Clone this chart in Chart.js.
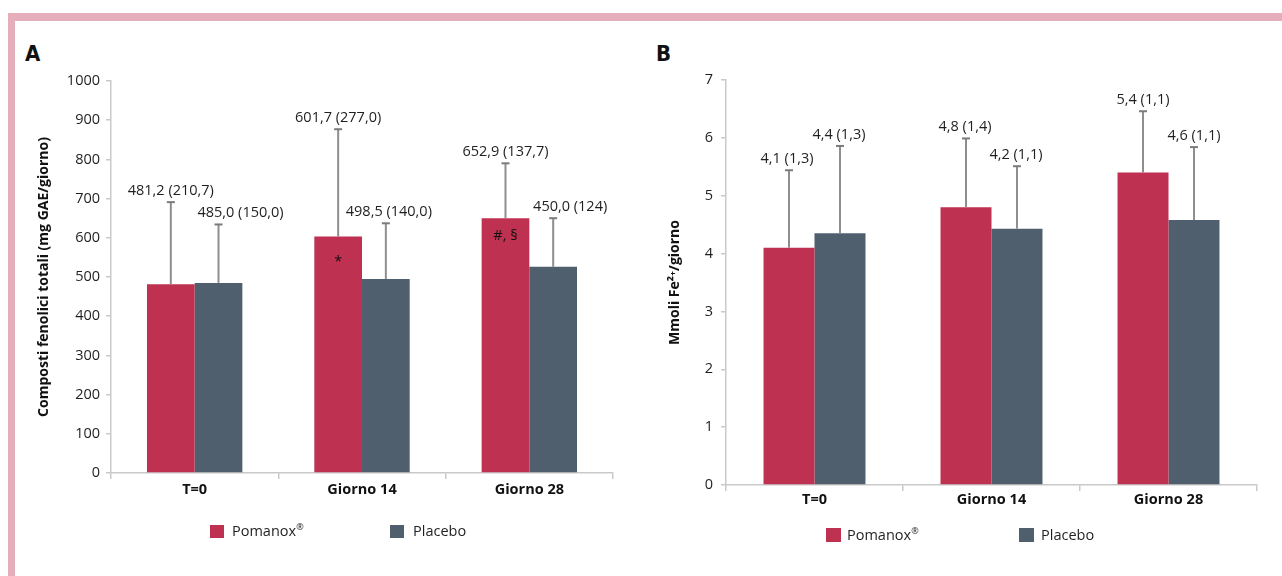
<!DOCTYPE html>
<html>
<head>
<meta charset="utf-8">
<script src="https://cdn.jsdelivr.net/npm/chart.js@4.4.1/dist/chart.umd.min.js"></script>
<style>
  body { margin: 0; width: 1282px; height: 576px; position: relative; overflow: hidden; background: #fff; font-family: 'Open Sans', sans-serif; color: #1f1f1f }
  .band-top { position: absolute; left: 8px; top: 13px; right: 0; height: 8px; background: #e6aeba }
  .band-left { position: absolute; left: 8px; top: 13px; width: 7px; bottom: 0; background: #e6aeba }
  .letter { position: absolute; font: bold 22px 'Liberation Sans Narrow', 'DejaVu Sans Condensed', sans-serif; color: #111; line-height: 1 }
  canvas { position: absolute }
  .lg-box { position: absolute; width: 14px; height: 13px }
  .lg-txt { position: absolute; font-size: 14.5px; line-height: 20px; color: #1f1f1f }
  .lg-txt sup { font-size: 9px; vertical-align: 6px; line-height: 0 }
</style>
</head>
<body>
<div class="band-top"></div>
<div class="band-left"></div>
<div class="letter" style="left:25px;top:43px">A</div>
<div class="letter" style="left:656px;top:43px">B</div>

<canvas id="chartA" width="620" height="546" style="left:20px;top:30px"></canvas>
<canvas id="chartB" width="642" height="546" style="left:640px;top:30px"></canvas>

<div class="lg-box" style="left:210px;top:525px;background:#be3151"></div>
<div class="lg-txt" style="left:232px;top:521px">Pomanox<sup>®</sup></div>
<div class="lg-box" style="left:390px;top:525px;background:#4f5f6d"></div>
<div class="lg-txt" style="left:413px;top:521px">Placebo</div>

<div class="lg-box" style="left:826px;top:528px;width:15px;height:14px;background:#be3151"></div>
<div class="lg-txt" style="left:847px;top:525px">Pomanox<sup>®</sup></div>
<div class="lg-box" style="left:1019px;top:528px;width:15px;height:14px;background:#4f5f6d"></div>
<div class="lg-txt" style="left:1041px;top:525px">Placebo</div>

<script>
const categories = ['T=0', 'Giorno 14', 'Giorno 28']

// A: composti fenolici totali (bar height, whisker end, printed text)
const pomanoxA = [481.2, 603, 650]
const placeboA = [485, 495, 526]
const pomanoxA_err = [691, 877, 790]
const placeboA_err = [634, 637, 650]
const pomanoxA_text = ['481,2 (210,7)', '601,7 (277,0)', '652,9 (137,7)']
const placeboA_text = ['485,0 (150,0)', '498,5 (140,0)', '450,0 (124)']
const pomanoxA_marks = ['', '*', '#, §']
const ticksA = [0, 100, 200, 300, 400, 500, 600, 700, 800, 900, 1000]

// B: Mmoli Fe2+/giorno
const pomanoxB = [4.1, 4.8, 5.4]
const placeboB = [4.35, 4.43, 4.58]
const pomanoxB_err = [5.44, 5.99, 6.46]
const placeboB_err = [5.86, 5.51, 5.84]
const pomanoxB_text = ['4,1 (1,3)', '4,8 (1,4)', '5,4 (1,1)']
const placeboB_text = ['4,4 (1,3)', '4,2 (1,1)', '4,6 (1,1)']
const ticksB = [0, 1, 2, 3, 4, 5, 6, 7]

const RED = '#be3151'
const SLATE = '#4f5f6d'
const AXIS = '#c9c9c9'

Chart.defaults.font.family = "'Open Sans', sans-serif"
Chart.defaults.color = '#1f1f1f'

const errorBars = {
  id: 'errorBars',
  afterDatasetsDraw(chart, args, opts) {
    const { ctx } = chart
    const y = chart.scales.y
    const nudge = opts.nudge || [[], []]
    ctx.save()
    chart.data.datasets.forEach((ds, di) => {
      chart.getDatasetMeta(di).data.forEach((bar, i) => {
        const x = bar.x
        const top = y.getPixelForValue(ds.errTop[i])
        ctx.lineWidth = 2
        ctx.strokeStyle = '#8e8e8e'
        ctx.beginPath(); ctx.moveTo(x, bar.y); ctx.lineTo(x, top); ctx.stroke()
        ctx.strokeStyle = '#7b7b7b'
        ctx.beginPath(); ctx.moveTo(x - 4, top); ctx.lineTo(x + 4, top); ctx.stroke()
        ctx.fillStyle = '#1f1f1f'
        ctx.font = "14.5px 'Open Sans'"
        ctx.textAlign = 'center'
        ctx.textBaseline = 'alphabetic'
        ctx.fillText(ds.valueText[i], x + (nudge[di][i] || 0), top - 7)
        if (ds.marks && ds.marks[i]) {
          ctx.fillStyle = '#111'
          ctx.textBaseline = 'middle'
          ctx.fillText(ds.marks[i], x, bar.y + (ds.marks[i] === '*' ? 25 : 18))
        }
      })
    })
    ctx.restore()
  }
}

function makePanel(canvasId, p) {
  const canvas = document.getElementById(canvasId)
  return new Chart(canvas.getContext('2d'), {
    type: 'bar',
    data: {
      labels: categories,
      datasets: [
        { label: 'Pomanox®', data: p.pom, errTop: p.pomErr, valueText: p.pomText, marks: p.marks,
          backgroundColor: RED, categoryPercentage: p.catPct, barPercentage: 1 },
        { label: 'Placebo', data: p.pla, errTop: p.plaErr, valueText: p.plaText,
          backgroundColor: SLATE, categoryPercentage: p.catPct, barPercentage: 1 }
      ]
    },
    options: {
      responsive: false,
      animation: false,
      layout: { padding: p.padding },
      plugins: { legend: { display: false }, tooltip: { enabled: false }, errorBars: { nudge: p.nudge } },
      scales: {
        x: {
          grid: { drawOnChartArea: false, drawTicks: true, tickLength: 6, color: AXIS, lineWidth: 1.5 },
          border: { color: AXIS, width: 1.5 },
          ticks: { padding: p.xPad, color: '#111', font: { size: 14.5, weight: 'bold' } },
          afterFit: s => { s.height = 40 }
        },
        y: {
          min: 0,
          max: p.ticks[p.ticks.length - 1],
          afterBuildTicks: s => { s.ticks = p.ticks.map(v => ({ value: v })) },
          grid: { drawOnChartArea: false, drawTicks: true, tickLength: 5, color: AXIS, lineWidth: 1.5 },
          border: { color: AXIS, width: 1.5 },
          ticks: { padding: p.yPad, color: '#1f1f1f', font: { size: 14.5 }, callback: v => String(v) },
          title: { display: true, text: p.title, color: '#111', font: { size: 14, weight: 'bold' },
            padding: { top: p.titlePad, bottom: 0 } },
          afterFit: s => { s.width = p.yWidth }
        }
      }
    },
    plugins: [errorBars]
  })
}

makePanel('chartA', {
  pom: pomanoxA, pla: placeboA, pomErr: pomanoxA_err, plaErr: placeboA_err,
  pomText: pomanoxA_text, plaText: placeboA_text, marks: pomanoxA_marks,
  ticks: ticksA, title: 'Composti fenolici totali (mg GAE/giorno)',
  catPct: 0.57, padding: { left: 0, top: 51, right: 27, bottom: 63 },
  yWidth: 91, yPad: 6, xPad: 2, titlePad: 16,
  nudge: [[0, 0, 0], [22, 3, 17]]
})

makePanel('chartB', {
  pom: pomanoxB, pla: placeboB, pomErr: pomanoxB_err, plaErr: placeboB_err,
  pomText: pomanoxB_text, plaText: placeboB_text, marks: null,
  ticks: ticksB, title: 'Mmoli Fe²⁺/giorno',
  catPct: 0.576, padding: { left: 0, top: 50, right: 25, bottom: 51 },
  yWidth: 86, yPad: 8, xPad: 0, titlePad: 27,
  nudge: [[-2, -1, 0], [-1, -1, 0]]
})
</script>
</body>
</html>
